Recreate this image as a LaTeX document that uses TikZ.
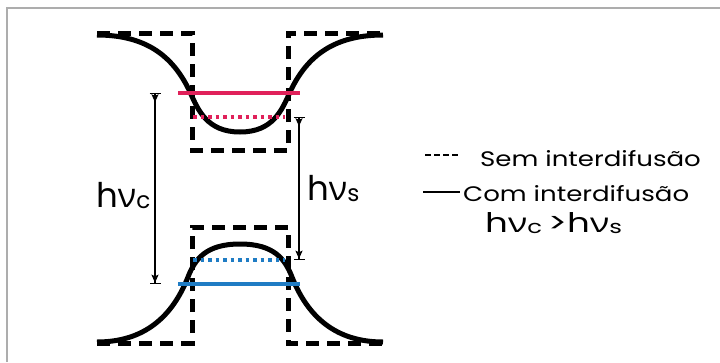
\documentclass[tikz,border=0pt]{standalone}
\usepackage{fontspec}
\setmainfont{Poppins}
\newfontfamily\grk{Open Sans}
\newfontfamily\legfont[FakeStretch=1.24]{Poppins}
\usetikzlibrary{arrows.meta,positioning}
\definecolor{lvlred}{HTML}{E0215A}
\definecolor{lvlblue}{HTML}{1F7CC4}
\definecolor{rim}{HTML}{ADADAD}
\tikzset{
  >={Stealth[length=8pt,width=7pt,inset=1.5pt]},
  well/.style={line width=5pt,dash pattern=on 13pt off 8pt},
  band/.style={line width=5pt},
  lvl/.style={line width=3.2pt},
  lvldot/.style={line width=3.5pt,dash pattern=on 3.5pt off 4pt},
  gap/.style={line width=1.3pt,{Bar[width=11pt]>}-{>Bar[width=11pt]}},
  lab/.style={font=\fontsize{34}{40}\selectfont,inner sep=0pt,anchor=base west},
  leg/.style={font=\legfont\fontsize{21}{24}\selectfont,inner sep=0pt,anchor=base west},
}
\newcommand{\hnu}[1]{h{\grk ν}\raisebox{-1pt}{\scalebox{0.68}{#1}}}

\begin{document}
\begin{tikzpicture}[x=1pt,y=-1pt]
\useasboundingbox (0,0) rectangle (720,362);
\draw[rim,line width=1.2pt] (7,362) -- (7,8) -- (720,8);
% square wells
\draw[well] (97,33) -- (192,33) -- (192,150) -- (288,150) -- (288,33) -- (383,33);
\draw[well] (97,343) -- (192,343) -- (192,227) -- (288,227) -- (288,343) -- (383,343);
% graded bands
\draw[band] (97,35) .. controls (150,35) and (175,60) .. (190,92)
  .. controls (198,110) and (207,132) .. (240,132)
  .. controls (273,132) and (282,110) .. (290,92)
  .. controls (305,60) and (330,35) .. (383,35);
\draw[band] (97,342) .. controls (150,342) and (175,310) .. (188,277)
  .. controls (195,259) and (206,244) .. (240,244)
  .. controls (274,244) and (285,259) .. (292,277)
  .. controls (305,310) and (330,342) .. (383,342);
% levels
\coordinate (ec1) at (178,93);  \coordinate (ec2) at (300,93);
\coordinate (es1) at (193,117); \coordinate (es2) at (285,117);
\coordinate (hs1) at (193,260); \coordinate (hs2) at (285,260);
\coordinate (hc1) at (178,284); \coordinate (hc2) at (300,284);
\draw[lvl,lvlred] (ec1) -- (ec2);
\draw[lvldot,lvlred] (es1) -- (es2);
\draw[lvldot,lvlblue] (hs1) -- (hs2);
\draw[lvl,lvlblue] (hc1) -- (hc2);
% transitions
\coordinate (ct) at (155,93);  \coordinate (cb) at (155,284);
\coordinate (st) at (299,117); \coordinate (sb) at (299,260);
\draw[gap] (ct) -- (cb);
\draw[gap] (st) -- (sb);
\node[lab] (hvc) at (96,207) {\hnu{c}};
\node[lab] (hvs) at (307,200) {\hnu{s}};
% legend
\node[leg] (sem) at (480,166) {Sem interdifusão};
\node[leg] (com) at (463,201) {Com interdifusão};
\node[lab,font=\fontsize{27}{30}\selectfont] (cmp) at (485,232) {\scalebox{1.32}[1]{\hnu{c}\,>\hnu{s}}};
\coordinate (d1) at (425,155); \coordinate (d2) at (460,155);
\coordinate (s1) at (423,192); \coordinate (s2) at (460,192);
\draw[line width=2pt,dash pattern=on 6pt off 3pt] (d1) -- (d2);
\draw[line width=2.5pt] (s1) -- (s2);
\end{tikzpicture}
\end{document}
